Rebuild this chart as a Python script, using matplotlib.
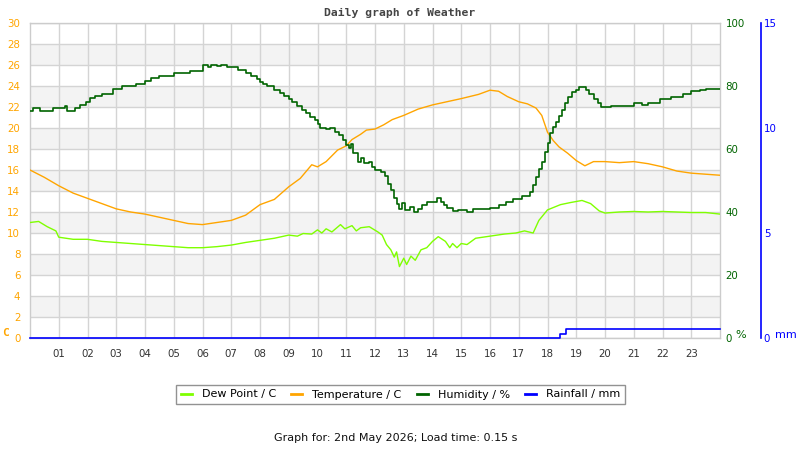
import matplotlib
matplotlib.use("Agg")
import matplotlib.pyplot as plt
from matplotlib.lines import Line2D

# ---------------- data ----------------
hour_ticks = list(range(1, 24))
hour_labels = ["%02d" % h for h in hour_ticks]

temp_t = [0, 0.5, 1, 1.5, 2, 2.5, 3, 3.5, 4, 4.5, 5, 5.5, 6, 6.5, 7, 7.5, 8, 8.5, 9,
          9.4, 9.8, 10.0, 10.3, 10.7, 11.0, 11.2, 11.5, 11.7, 12.0, 12.3, 12.6, 13.0,
          13.5, 14.0, 14.5, 15.0, 15.3, 15.6, 16.0, 16.3, 16.6, 17.0, 17.3, 17.6, 17.8,
          18.0, 18.2, 18.4, 18.7, 19.0, 19.3, 19.6, 20.0, 20.5, 21.0, 21.5, 22.0, 22.5,
          23.0, 23.5, 24.0]
temp_v = [16.0, 15.3, 14.5, 13.8, 13.3, 12.8, 12.3, 12.0, 11.8, 11.5, 11.2, 10.9, 10.8,
          11.0, 11.2, 11.7, 12.7, 13.2, 14.4, 15.2, 16.5, 16.3, 16.8, 17.9, 18.3, 18.9,
          19.4, 19.8, 19.9, 20.3, 20.8, 21.2, 21.8, 22.2, 22.5, 22.8, 23.0, 23.2, 23.6,
          23.5, 23.0, 22.5, 22.3, 21.9, 21.2, 19.6, 18.8, 18.2, 17.6, 16.9, 16.4, 16.8,
          16.8, 16.7, 16.8, 16.6, 16.3, 15.9, 15.7, 15.6, 15.5]

dew_t = [0, 0.3, 0.6, 0.9, 1.0, 1.5, 2.0, 2.5, 3.0, 3.5, 4.0, 4.5, 5.0, 5.5, 6.0, 6.5,
         7.0, 7.5, 8.0, 8.5, 9.0, 9.3, 9.5, 9.8, 10.0, 10.15, 10.3, 10.5, 10.8, 10.95,
         11.2, 11.35, 11.5, 11.8, 12.1, 12.25, 12.4, 12.55, 12.67, 12.75, 12.85, 13.0,
         13.1, 13.25, 13.4, 13.6, 13.8, 14.0, 14.2, 14.45, 14.6, 14.7, 14.85, 15.0,
         15.2, 15.5, 16.0, 16.5, 16.9, 17.2, 17.5, 17.7, 18.0, 18.45, 18.8, 19.0, 19.2,
         19.5, 19.8, 20.0, 20.5, 21.0, 21.5, 22.0, 22.5, 23.0, 23.5, 24.0]
dew_v = [11.0, 11.1, 10.6, 10.2, 9.6, 9.4, 9.4, 9.2, 9.1, 9.0, 8.9, 8.8, 8.7, 8.6, 8.6,
         8.7, 8.85, 9.1, 9.3, 9.5, 9.8, 9.7, 9.95, 9.9, 10.3, 10.0, 10.4, 10.1, 10.8,
         10.4, 10.7, 10.2, 10.5, 10.6, 10.1, 9.8, 8.9, 8.4, 7.7, 8.2, 6.8, 7.6, 7.0,
         7.8, 7.4, 8.4, 8.6, 9.2, 9.65, 9.2, 8.6, 9.0, 8.6, 9.0, 8.9, 9.5, 9.7, 9.9,
         10.0, 10.2, 10.0, 11.2, 12.2, 12.7, 12.9, 13.0, 13.1, 12.8, 12.1, 11.9, 12.0,
         12.05, 12.0, 12.05, 12.0, 11.95, 11.95, 11.8]

hum_t = [0, 0.1, 0.35, 0.8, 1.2, 1.3, 1.55, 1.75, 1.95, 2.1, 2.25, 2.5, 2.9, 3.2, 3.7,
         4.0, 4.2, 4.5, 5.0, 5.55, 6.0, 6.2, 6.3, 6.5, 6.65, 6.85, 7.25, 7.5, 7.7, 7.9,
         8.0, 8.1, 8.25, 8.5, 8.7, 8.85, 9.0, 9.1, 9.3, 9.45, 9.6, 9.75, 9.9, 10.0, 10.1,
         10.3, 10.45, 10.6, 10.75, 10.9, 11.0, 11.1, 11.15, 11.25, 11.4, 11.5, 11.6, 11.8,
         11.9, 12.0, 12.2, 12.35, 12.45, 12.55, 12.65, 12.75, 12.85, 12.95, 13.05, 13.2,
         13.35, 13.5, 13.65, 13.8, 14.0, 14.15, 14.3, 14.4, 14.5, 14.7, 14.9, 15.2, 15.4,
         15.7, 16.0, 16.3, 16.55, 16.8, 17.1, 17.4, 17.5, 17.6, 17.7, 17.8, 17.9, 18.0,
         18.1, 18.2, 18.3, 18.4, 18.5, 18.6, 18.7, 18.85, 19.0, 19.1, 19.35, 19.45, 19.6,
         19.75, 19.85, 20.2, 21.0, 21.3, 21.5, 21.9, 22.3, 22.7, 23.0, 23.3, 23.5, 24.0]
hum_v = [72.1, 72.9, 72.1, 72.9, 73.6, 72.1, 72.9, 74.0, 75.0, 76.1, 76.9, 77.6, 78.9,
         79.9, 80.6, 81.6, 82.6, 83.2, 84.0, 84.9, 86.7, 86.1, 86.7, 86.4, 86.7, 85.9,
         85.1, 84.2, 83.2, 82.3, 81.4, 80.6, 80.0, 78.8, 77.9, 76.9, 75.9, 74.8, 73.7,
         72.4, 71.3, 70.3, 69.2, 67.8, 66.8, 66.2, 66.8, 65.5, 64.4, 62.9, 61.3, 60.2,
         61.6, 58.6, 56.0, 57.0, 55.4, 55.9, 54.4, 53.3, 52.8, 51.5, 49.0, 47.0, 44.5,
         42.5, 41.0, 43.0, 40.6, 41.5, 40.1, 41.0, 42.2, 43.3, 43.3, 44.6, 43.3, 42.2,
         41.2, 40.3, 40.6, 40.1, 41.0, 40.8, 41.3, 42.2, 43.2, 44.1, 45.2, 46.5, 48.5,
         51.0, 53.5, 56.0, 59.0, 62.0, 65.0, 67.1, 68.6, 70.5, 72.4, 74.5, 76.6, 78.0,
         78.6, 79.8, 78.6, 77.5, 75.9, 74.5, 73.3, 73.7, 74.5, 73.9, 74.5, 75.8, 76.6,
         77.5, 78.3, 78.7, 78.9, 79.0]

rain_t = [0, 18.45, 18.63, 24]
rain_v = [0, 0.2, 0.45, 0.45]

temp_ticks = list(range(0, 31, 2))
hum_ticks = [0, 20, 40, 60, 80, 100]
rain_ticks = [0, 5, 10, 15]

legend_labels = ["Dew Point / C", "Temperature / C", "Humidity / %", "Rainfall / mm"]

# ---------------- style ----------------
C_DEW = "#7FFF00"
C_TEMP = "#FFA500"
C_HUM = "#006400"
C_RAIN = "#0000FF"
GRID = "#d4d4d4"
BAND = "#f3f3f3"

plt.rcParams['font.family'] = ['DejaVu Sans']

fig = plt.figure(figsize=(8, 4.5), dpi=100)
ax = fig.add_axes([30 / 800, 1 - 338 / 450, 690 / 800, 315 / 450])
ax.set_xlim(0, 24)
ax.set_ylim(0, 30)

# alternating bands
for lo in temp_ticks[1:-1:2]:
    ax.axhspan(lo, lo + 2, color=BAND, lw=0, zorder=0)

ax.set_yticks(temp_ticks)
ax.set_xticks(hour_ticks)
ax.set_xticklabels(hour_labels)
ax.grid(True, color=GRID, lw=1, zorder=1)
ax.set_axisbelow(True)
ax.tick_params(axis='y', length=0, pad=7, labelsize=7.4, labelcolor=C_TEMP)
ax.tick_params(axis='x', length=0, pad=8, labelsize=7.4, labelcolor="#333333")
for s in ax.spines.values():
    s.set_color("#cccccc")
    s.set_linewidth(1)

ax.plot(dew_t, dew_v, color=C_DEW, lw=1.0, zorder=3)
ax.plot(temp_t, temp_v, color=C_TEMP, lw=1.0, zorder=3)

# humidity axis
ax2 = ax.twinx()
ax2.set_ylim(0, 100)
ax2.set_yticks(hum_ticks)
ax2.tick_params(axis='y', length=0, pad=4, labelsize=7.4, labelcolor=C_HUM)
for s in ax2.spines.values():
    s.set_visible(False)
ax2.plot(hum_t, hum_v, color=C_HUM, lw=1.2, drawstyle='steps-post', zorder=3)

# rainfall axis
ax3 = ax.twinx()
ax3.set_ylim(0, 15)
ax3.set_yticks(rain_ticks)
for k, s in ax3.spines.items():
    s.set_visible(k == 'right')
ax3.spines['right'].set_position(('outward', 29.5))
ax3.spines['right'].set_color(C_RAIN)
ax3.spines['right'].set_linewidth(1.2)
ax3.tick_params(axis='y', length=0, pad=2, labelsize=7.4, labelcolor=C_RAIN)
ax3.plot(rain_t, rain_v, color=C_RAIN, lw=1.2, drawstyle='steps-post', clip_on=False, zorder=4)

# unit labels
fig.text(2.5 / 800, 1 - 333 / 450, "C", color=C_TEMP, fontsize=8, fontweight='bold',
         family='DejaVu Sans Mono', va='center', ha='left')
fig.text(735 / 800, 1 - 335 / 450, "%", color=C_HUM, fontsize=8, va='center', ha='left')
fig.text(775 / 800, 1 - 335 / 450, "mm", color=C_RAIN, fontsize=8, va='center', ha='left')

# title
fig.text(400 / 800, 1 - 13 / 450, "Daily graph of Weather", ha='center', va='center',
         family='DejaVu Sans Mono', fontweight='bold', fontsize=8.2, color="#444444")

# legend
handles = [Line2D([], [], color=c, lw=2) for c in (C_DEW, C_TEMP, C_HUM, C_RAIN)]
leg = fig.legend(handles, legend_labels, loc='center', bbox_to_anchor=(400.5 / 800, 1 - 394.5 / 450),
                 ncol=4, fontsize=8, frameon=True, fancybox=False, handlelength=1.0,
                 handletextpad=0.9, columnspacing=1.35, borderpad=0.4, borderaxespad=0)
leg.get_frame().set_edgecolor("#777777")
leg.get_frame().set_linewidth(1)

# footer
fig.text(396 / 800, 1 - 438 / 450, "Graph for: 2nd May 2026; Load time: 0.15 s",
         ha='center', va='center', fontsize=8, color="#111111")

fig.savefig("out.png", dpi=100)
